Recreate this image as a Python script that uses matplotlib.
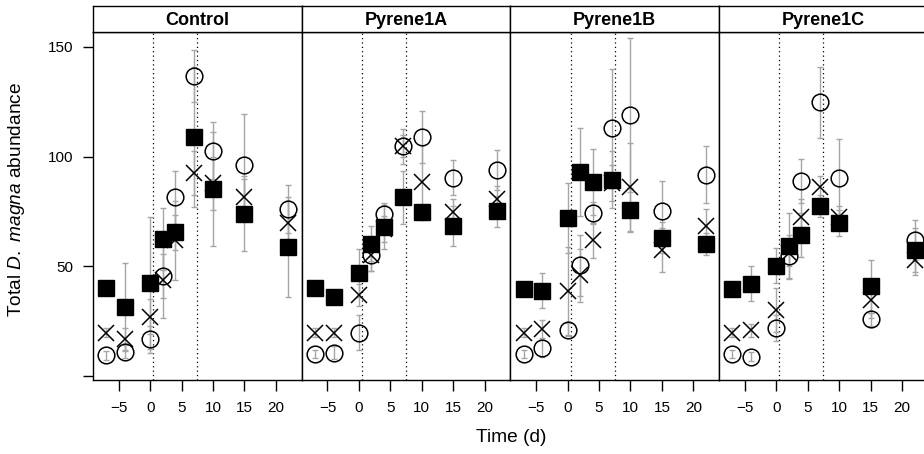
#!/usr/bin/env python3
"""Four-panel lattice-style plot of D. magna abundance over time."""
import os

os.environ.setdefault("MPLBACKEND", "Agg")
import matplotlib.pyplot as plt

plt.rcParams["font.family"] = ["Liberation Sans", "DejaVu Sans"]
plt.rcParams["mathtext.fontset"] = "custom"
plt.rcParams["mathtext.it"] = "Liberation Sans:italic"
plt.rcParams["mathtext.rm"] = "Liberation Sans"

PANELS = ["Control", "Pyrene1A", "Pyrene1B", "Pyrene1C"]
TIMES = [-7, -4, 0, 2, 4, 7, 10, 15, 22]
EXPOSURE = [0.5, 7.5]
X_TICKS = [-5, 0, 5, 10, 15, 20]
X_TICK_LABELS = ["\u22125", "0", "5", "10", "15", "20"]
Y_TICKS = [0, 50, 100, 150]
Y_TICK_LABELS = ["", "50", "100", "150"]

# filled squares
CONTROL_SQ = [40, 31.5, 42.4, 62.4, 65.6, 109, 85.3, 74, 58.8]
CONTROL_SQ_ERR = [2, 20, 30, 14, 8, 32, 26, 17, 23]
P1A_SQ = [40.1, 36, 47, 60.3, 67.9, 81.5, 74.7, 68.3, 75]
P1A_SQ_ERR = [2, 2, 11, 8, 10, 12, 3, 9, 7]
P1B_SQ = [39.9, 38.8, 72, 92.9, 88.3, 89.5, 75.8, 63, 60.3]
P1B_SQ_ERR = [2, 8, 16, 20, 15, 13, 10, 7, 5]
P1C_SQ = [39.9, 42.1, 50.2, 59.1, 64.4, 77.4, 69.7, 40.9, 57.6]
P1C_SQ_ERR = [2, 8, 8, 15, 10, 5, 6, 12, 10]

# crosses
CONTROL_X = [19.8, 17.1, 27, 43.6, 61.8, 92.4, 87.9, 81.8, 69.7]
CONTROL_X_ERR = [2, 5, 8, 17, 18, 10, 12, 8, 10]
P1A_X = [19.8, 19.8, 37.1, 55, 67, 104.7, 88.3, 74.7, 80.8]
P1A_X_ERR = [2, 2, 5, 7, 6, 8, 17, 6, 6]
P1B_X = [19.8, 21.4, 38.8, 45.9, 61.8, 88, 86, 57.6, 68.2]
P1B_X_ERR = [2, 4, 20, 12, 8, 8, 20, 10, 8]
P1C_X = [19.8, 20.9, 30.3, 56, 72.7, 86, 72.7, 34.5, 53]
P1C_X_ERR = [2, 3, 10, 6, 8, 5, 5, 8, 7]

# open circles
CONTROL_O = [9.5, 11, 16.7, 45.5, 81.5, 136.8, 102.7, 96.4, 76.2]
CONTROL_O_ERR = [2, 3, 6, 10, 12, 12, 13, 23, 11]
P1A_O = [10, 10.6, 19.8, 55, 74, 104.7, 109, 90.3, 94]
P1A_O_ERR = [2, 3, 8, 7, 5, 5, 12, 8, 9]
P1B_O = [10, 12.6, 21.2, 50.5, 74.2, 112.9, 119, 75, 91.8]
P1B_O_ERR = [2, 4, 3, 14, 5, 27, 35, 14, 13]
P1C_O = [10, 8.8, 22, 54.5, 88.8, 124.7, 90.2, 25.8, 62.1]
P1C_O_ERR = [2, 2, 6, 10, 10, 16, 18, 3, 9]

W, H = 924, 454
LEFT, PANEL_W = 93, 208.7
TOP, BOTTOM, STRIP_TOP = 32, 380, 6
GREY = "#a6a6a6"


def draw_panel(ax, circles, crosses, squares) -> None:
    for (vals, errs) in (circles, crosses, squares):
        ax.errorbar(TIMES, vals, yerr=errs, fmt="none", ecolor=GREY, elinewidth=1,
                    capsize=2, capthick=1, zorder=2)
    ax.plot(TIMES, circles[0], "o", ms=12, mfc="none", mec="black", mew=1.1, zorder=3)
    ax.plot(TIMES, crosses[0], "x", ms=12, mec="black", mew=1.1, zorder=4)
    ax.plot(TIMES, squares[0], "s", ms=11, mfc="black", mec="black", zorder=5)
    for t in EXPOSURE:
        ax.axvline(t, color="black", ls=(0, (1, 2.5)), lw=0.9, zorder=1)
    ax.set_xlim(-9.1, 24.1); ax.set_ylim(-1.8, 156.8)
    ax.set_xticks(X_TICKS, X_TICK_LABELS)
    ax.tick_params(axis="x", direction="out", length=8, width=1, labelsize=11, pad=7)
    for s in ax.spines.values(): s.set_linewidth(1)


def main() -> None:
    fig = plt.figure(figsize=(W/100, H/100), dpi=100)
    series = [
        ((CONTROL_O, CONTROL_O_ERR), (CONTROL_X, CONTROL_X_ERR), (CONTROL_SQ, CONTROL_SQ_ERR)),
        ((P1A_O, P1A_O_ERR), (P1A_X, P1A_X_ERR), (P1A_SQ, P1A_SQ_ERR)),
        ((P1B_O, P1B_O_ERR), (P1B_X, P1B_X_ERR), (P1B_SQ, P1B_SQ_ERR)),
        ((P1C_O, P1C_O_ERR), (P1C_X, P1C_X_ERR), (P1C_SQ, P1C_SQ_ERR)),
    ]
    for i, (name, data) in enumerate(zip(PANELS, series)):
        x0 = (LEFT + i*PANEL_W) / W
        ax = fig.add_axes([x0, (H-BOTTOM)/H, PANEL_W/W, (BOTTOM-TOP)/H])
        draw_panel(ax, *data)
        if i == 0:
            ax.set_yticks(Y_TICKS, Y_TICK_LABELS)
            ax.tick_params(axis="y", direction="out", length=7, width=1, labelsize=11, pad=7)
        else:
            ax.set_yticks([])
        strip = fig.add_axes([x0, (H-TOP)/H, PANEL_W/W, (TOP-STRIP_TOP)/H])
        strip.set_xticks([]); strip.set_yticks([])
        for s in strip.spines.values(): s.set_linewidth(1)
        strip.text(0.5, 0.45, name, ha="center", va="center", fontsize=13,
                   fontweight="bold", transform=strip.transAxes)
    fig.text(17/W, 1 - 199/H, r"Total $\mathit{D.\ magna}$ abundance", rotation=90,
             ha="center", va="center", fontsize=13.8)
    fig.text(511/W, 1 - 438/H, "Time (d)", ha="center", va="center", fontsize=13.8)
    fig.savefig("out.png", dpi=100); plt.close(fig)


if __name__ == "__main__": main()
